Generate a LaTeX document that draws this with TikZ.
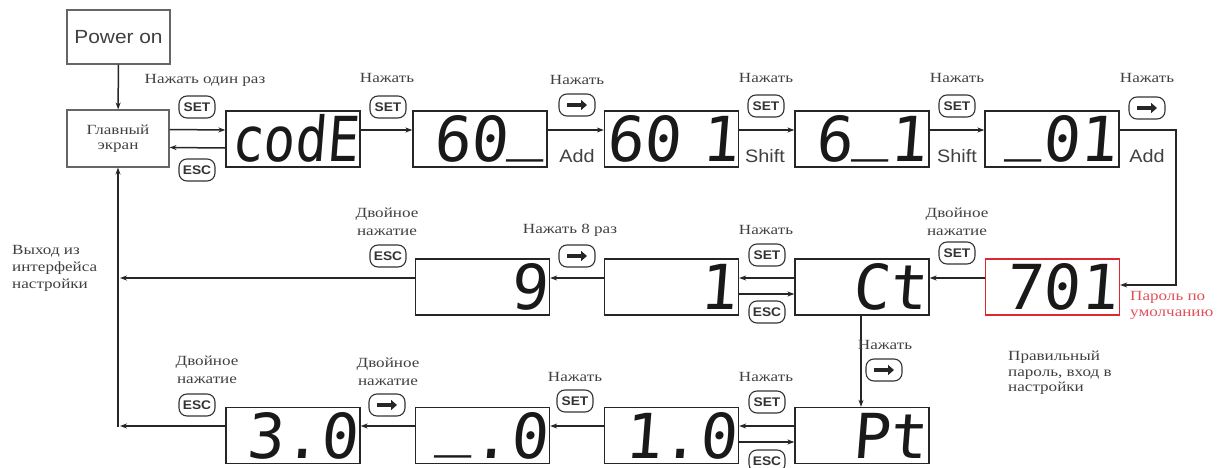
\documentclass[tikz,border=0pt]{standalone}
\usepackage{fontspec}
\setmainfont[FakeStretch=1.22]{Liberation Serif}
\newfontfamily\sansf[FakeStretch=1.1]{Liberation Sans}
\newfontfamily\lcdf[FakeSlant=0.08]{DejaVu Sans Mono}
\newfontfamily\lcdn[FakeSlant=0.08,FakeStretch=0.85]{DejaVu Sans Mono}
\usetikzlibrary{arrows.meta}
\definecolor{boxred}{RGB}{220,40,50}
\definecolor{txtred}{RGB}{225,80,90}
\newcommand\us{\raisebox{0.23em}{\_}}
\newcommand\arrowkey[2]{\node[btn] (#1) at (#2) {};
  \draw[keyarrow] ([xshift=-10pt]#1.center) -- ([xshift=10pt]#1.center);}
\tikzset{
  arr/.style={draw=black!85, line width=1.5pt, -{Stealth[length=7pt,width=5pt]}},
  plainbox/.style={draw=black!60, line width=1.1pt},
  disp/.style={draw=black!85, line width=1.3pt, minimum width=134pt, minimum height=56pt,
    text width=130pt, align=right, inner xsep=2pt, inner ysep=0pt, text height=45.5pt,
    text depth=0pt, font=\lcdf\fontsize{62}{62}\selectfont, text=black!90},
  lbl/.style={font=\fontsize{14}{18}\selectfont, text=black!75, align=center, inner sep=0pt},
  btn/.style={draw=black!80, line width=1.1pt, rounded corners=8pt, minimum width=36pt,
    minimum height=22pt, inner sep=0pt, font=\sansf\bfseries\fontsize{12.5}{12.5}\selectfont, text=black!80},
  keyarrow/.style={line width=3.5pt, draw=black!85, -{Triangle[length=6pt,width=10pt]}},
  sanslbl/.style={font=\sansf\fontsize{18}{18}\selectfont, text=black!75, inner sep=0pt}
}
\begin{document}
\begin{tikzpicture}[x=1pt,y=-1pt]
\useasboundingbox (0,0) rectangle (1228,468);
% start boxes
\node[plainbox, minimum width=103pt, minimum height=54pt, font=\sansf\fontsize{19}{19}\selectfont, text=black!75] (power) at (118.5,37) {Power on};
\node[plainbox, minimum width=102pt, minimum height=57pt, lbl, inner sep=0pt] (main) at (118,138.5) {Главный\\[-3pt]экран};
% top row
\node[disp, font=\lcdn\fontsize{62}{62}\selectfont] (code) at (293,139) {codE};
\node[disp] (s60) at (480,139) {60\us};
\node[disp] (s601) at (671.5,139) {60~1};
\node[disp] (s61) at (862,139) {6\us1};
\node[disp] (s01) at (1052,139) {\us01};
% middle row
\node[disp] (s9) at (482.5,287) {9};
\node[disp] (s1) at (671.5,287) {1};
\node[disp] (ct) at (862,287) {Ct};
\node[disp, draw=boxred] (p701) at (1052.5,287) {701};
% bottom row
\node[disp] (s30) at (293,435.5) {3.0};
\node[disp] (s0) at (482.5,435.5) {\us.0};
\node[disp] (s10) at (671.5,435.5) {1.0};
\node[disp] (pt) at (862,435.5) {Pt};
% helper coordinates
\coordinate (c1) at (1176,285);
\coordinate (exit) at (120,278);
\coordinate (ret) at (120,426);
\coordinate (corner) at (118,427);
% connectors
\draw[arr] (power) -- (main);
\draw[arr] ([yshift=9pt]main.east) -- ([yshift=9pt]code.west);
\draw[arr] ([yshift=-9pt]code.west) -- ([yshift=-9pt]main.east);
\draw[arr] ([yshift=9pt]code.east) -- ([yshift=9pt]s60.west);
\draw[arr] ([yshift=9pt]s60.east) -- ([yshift=9pt]s601.west);
\draw[arr] ([yshift=9pt]s601.east) -- ([yshift=9pt]s61.west);
\draw[arr] ([yshift=9pt]s61.east) -- ([yshift=9pt]s01.west);
\draw[arr] ([yshift=9pt]s01.east) -| (c1) -- ([yshift=2pt]p701.east);
\draw[arr] ([yshift=9pt]p701.west) -- ([yshift=9pt]ct.west -| ct.east);
\draw[arr] ([yshift=9pt]ct.west) -- ([yshift=9pt]s1.east);
\draw[arr] ([yshift=-7pt]s1.east) -- ([yshift=-7pt]ct.west);
\draw[arr] ([yshift=9pt]s1.west) -- ([yshift=9pt]s9.east);
\draw[arr] ([yshift=9pt]s9.west) -- (exit);
\draw[arr] (ct.south -| 861,0) -- (pt.north -| 861,0);
\draw[arr] ([yshift=9.5pt]pt.west) -- ([yshift=9.5pt]s10.east);
\draw[arr] ([yshift=-6.5pt]s10.east) -- ([yshift=-6.5pt]pt.west);
\draw[arr] ([yshift=9.5pt]s10.west) -- ([yshift=9.5pt]s0.east);
\draw[arr] ([yshift=9.5pt]s0.west) -- ([yshift=9.5pt]s30.east);
\draw[arr] ([yshift=9.5pt]s30.west) -- (ret);
\draw[arr] (corner) -- (main.south);
% keys and labels, top row
\node[lbl] (l1) at (205,80) {Нажать один раз};
\node[btn] (k1) at (197,107) {SET};
\node[btn] (k2) at (197,170) {ESC};
\node[lbl] (l2) at (387,78) {Нажать};
\node[btn] (k3) at (388,107) {SET};
\node[lbl] (l3) at (577,80) {Нажать};
\arrowkey{k4}{577,105}
\node[sanslbl] (a1) at (577,156) {Add};
\node[lbl] (l4) at (766,78) {Нажать};
\node[btn] (k5) at (766,106) {SET};
\node[sanslbl] (a2) at (765,156) {Shift};
\node[lbl] (l5) at (957,78) {Нажать};
\node[btn] (k6) at (957,106) {SET};
\node[sanslbl] (a3) at (957,156) {Shift};
\node[lbl] (l6) at (1147,78) {Нажать};
\arrowkey{k7}{1147,108}
\node[sanslbl] (a4) at (1147,156) {Add};
% middle row
\node[lbl] (l7) at (957,222) {Двойное\\нажатие};
\node[btn] (k8) at (957,253) {SET};
\node[lbl] (l8) at (766,230) {Нажать};
\node[btn] (k9) at (767,255) {SET};
\node[btn] (k10) at (767,312) {ESC};
\node[lbl] (l9) at (570,230) {Нажать 8 раз};
\arrowkey{k11}{577,256}
\node[lbl] (l10) at (387,222) {Двойное\\нажатие};
\node[btn] (k12) at (388,256) {ESC};
\node[lbl, align=left, font=\fontsize{14}{17}\selectfont, anchor=west] (l11) at (12,268) {Выход из\\интерфейса\\настройки};
\node[lbl, text=txtred, align=left, anchor=west] (l12) at (1130,305) {Пароль по\\[-2pt]умолчанию};
\node[lbl, align=left, font=\fontsize{14}{15.5}\selectfont, anchor=west] (l13) at (1008,373) {Правильный\\пароль, вход в\\настройки};
\node[lbl] (l14) at (885,345) {Нажать};
\arrowkey{k13}{884,370}
% bottom row
\node[lbl] (l15) at (207,370) {Двойное\\нажатие};
\node[btn] (k14) at (197,405) {ESC};
\node[lbl] (l16) at (388,372) {Двойное\\нажатие};
\arrowkey{k15}{387,405}
\node[lbl] (l17) at (575,377) {Нажать};
\node[btn] (k16) at (575,401) {SET};
\node[lbl] (l18) at (766,377) {Нажать};
\node[btn] (k17) at (767,402) {SET};
\node[btn] (k18) at (767,461) {ESC};
\end{tikzpicture}
\end{document}
